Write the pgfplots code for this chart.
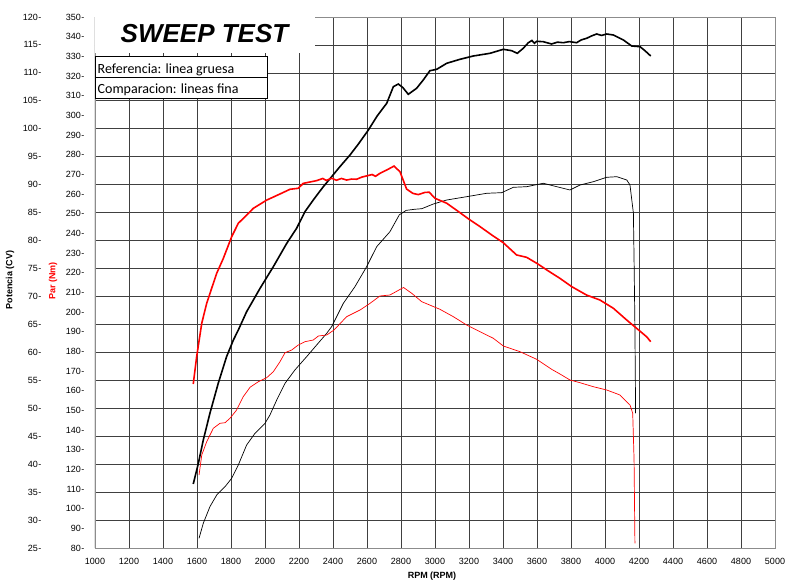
\documentclass[border=0pt]{standalone}
\usepackage{pgfplots}
\pgfplotsset{compat=1.18}
\usepackage{fontspec}
\setmainfont{Liberation Sans}
\newfontfamily\calib{Carlito}

\begin{document}
\begin{tikzpicture}
\useasboundingbox (0pt,0pt) rectangle (785pt,583pt);
\begin{axis}[
  at={(95pt,35pt)}, anchor=south west, scale only axis,
  width=680pt, height=531pt,
  xmin=1000, xmax=5000, ymin=25, ymax=120,
  xtick={1000,1200,...,5000}, ytick={25,30,...,120},
  grid=major, major grid style={black!75, line width=0.7pt},
  major tick length=0pt,
  axis line style={black!45, line width=0.8pt},
  /pgf/number format/assume math mode=true,
  /pgf/number format/1000 sep={},
  tick label style={font=\fontsize{9}{10}\selectfont},
  yticklabel={\pgfmathprintnumber{\tick}\kern0.6pt-},
  yticklabel style={anchor=east, xshift=-50pt},
  xticklabel style={anchor=north, yshift=-7pt},
]
% Reference power (thick black)
\addplot[black, line width=1.6pt] coordinates {
(1578,36.45) (1608,40.15) (1637,44.32) (1676,49.1) (1725,54.47) (1774,59.23)
(1814,62.21) (1843,64.0) (1892,67.28) (1971,71.46) (2049,75.33) (2128,79.51) (2186,82.2)
(2235,85.17) (2284,87.26) (2343,89.64) (2392,91.43) (2440,93.2) (2500,95.31)
(2550,97.3) (2608,99.78) (2660,102.3) (2716,104.56) (2755,107.53) (2784,108.01) (2810,107.4) (2843,106.17)
(2892,107.25) (2931,108.73) (2970,110.39) (3010,110.64) (3069,111.72) (3147,112.43)
(3225,113.02) (3323,113.5) (3402,114.22) (3451,113.97) (3484,113.5) (3519,114.4)
(3549,115.4) (3570,115.8) (3585,115.3) (3598,115.65) (3637,115.58) (3686,115.17)
(3720,115.5) (3755,115.4) (3790,115.6) (3833,115.4) (3860,115.9) (3892,116.19)
(3920,116.6) (3951,116.96) (3980,116.7) (4010,116.96) (4049,116.78) (4108,115.89)
(4157,114.81) (4206,114.69) (4235,113.97) (4269,113.02)
};
% Comparison power (thin black)
\addplot[black, line width=0.7pt] coordinates {
(1612,26.74) (1637,29.42) (1676,32.39) (1716,34.48) (1765,35.97) (1804,37.47)
(1843,39.85) (1892,43.43) (1941,45.52) (2000,47.31) (2029,48.79) (2069,51.48)
(2118,54.47) (2176,56.85) (2245,59.23) (2304,61.32) (2363,63.41)
(2392,64.59) (2461,68.78) (2529,71.75) (2598,75.33)
(2657,78.91) (2735,81.59) (2790,84.6) (2830,85.4) (2880,85.6) (2922,85.7) (2990,86.54)
(3069,87.26) (3186,87.85) (3304,88.46) (3392,88.57) (3461,89.53) (3539,89.64)
(3637,90.25) (3716,89.64) (3794,89.05) (3853,89.94) (3931,90.53) (4010,91.32)
(4069,91.43) (4128,90.84) (4147,89.94) (4160,86.67) (4167,84.93) (4171,76.53)
(4176,64.59) (4180,49.1)
};
\fill[white] (rel axis cs:0,1) rectangle (rel axis cs:0.3235,0.9322);
\node[font=\fontsize{26}{30}\selectfont\bfseries\itshape] at (rel axis cs:0.161,0.968) {SWEEP TEST};
\draw[black, line width=0.8pt, fill=white] (rel axis cs:0,0.9252) rectangle (rel axis cs:0.2529,0.8475);
\draw[black, line width=0.8pt] (rel axis cs:0,0.8857) -- (rel axis cs:0.2529,0.8857);
\node[anchor=base west, inner sep=0pt, font=\calib\fontsize{14}{16}\selectfont] at (rel axis cs:0.0037,0.894) {Referencia: linea gruesa};
\node[anchor=base west, inner sep=0pt, font=\calib\fontsize{14}{16}\selectfont] at (rel axis cs:0.0037,0.8563) {Comparacion: lineas fina};
\draw[black, line width=1pt] (rel axis cs:0,0) -- (rel axis cs:0,1);
\end{axis}
\begin{axis}[
  at={(95pt,35pt)}, anchor=south west, scale only axis,
  width=680pt, height=531pt,
  xmin=1000, xmax=5000, ymin=80, ymax=350,
  hide x axis, axis line style={draw=none},
  ytick={80,90,...,350}, major tick length=0pt,
  yticklabel pos=left,
  /pgf/number format/assume math mode=true,
  /pgf/number format/1000 sep={},
  tick label style={font=\fontsize{9}{10}\selectfont},
  yticklabel={\pgfmathprintnumber{\tick}\kern0.6pt-},
  yticklabel style={anchor=east, xshift=-7pt},
]
% Reference torque (thick red)
\addplot[red, line width=1.6pt] coordinates {
(1578,163.4) (1598,177.3) (1628,194.3) (1657,204.4) (1686,212.0) (1716,219.7)
(1755,227.3) (1804,238.3) (1843,245.1) (1892,249.3) (1931,252.7) (2010,256.9)
(2088,260.0) (2147,262.4) (2196,262.9) (2225,265.4) (2304,266.8) (2340,267.9)
(2360,266.9) (2392,268.0) (2420,267.0) (2450,267.9) (2480,267.1) (2510,267.6)
(2539,267.5) (2570,268.6) (2598,269.2) (2630,269.9) (2650,269.0) (2676,270.5)
(2716,272.2) (2759,274.2) (2794,271.3) (2833,262.5) (2870,260.3) (2902,259.7)
(2940,260.8) (2966,260.9) (3000,257.8) (3069,255.3) (3147,250.5) (3196,247.4)
(3265,243.4) (3343,238.6) (3402,235.2) (3480,229.0) (3539,227.8) (3598,224.8)
(3657,221.4) (3735,217.1) (3804,212.9) (3892,208.6) (3970,206.1) (4049,201.9)
(4128,195.9) (4186,191.7) (4245,187.4) (4269,184.9)
};
% Comparison torque (thin red)
\addplot[red, line width=0.7pt] coordinates {
(1612,117.1) (1628,127.3) (1657,134.05) (1696,140.86) (1735,143.4) (1765,143.71)
(1794,145.95) (1833,150.17) (1872,156.93) (1912,161.71) (1961,164.56) (2010,166.59)
(2049,169.64) (2088,174.73) (2118,179.3) (2157,180.68) (2196,183.22) (2235,184.9)
(2284,185.76) (2314,187.8) (2363,188.3) (2406,190.85) (2480,197.61)
(2559,201.02) (2618,204.42) (2676,208.13) (2735,208.64) (2815,212.46) (2863,209.51)
(2922,205.24) (3029,201.37) (3108,197.61) (3186,193.39) (3265,189.98) (3343,186.63)
(3402,182.71) (3500,179.81) (3598,175.95) (3686,170.86) (3735,168.47) (3794,165.42)
(3853,164.05) (3931,162.02) (4010,160.34) (4088,157.8) (4147,152.71) (4163,148.49)
(4171,124.75) (4176,82.39)
};
\end{axis}
\node[rotate=90, font=\fontsize{9}{10}\selectfont\bfseries] at (10pt,303pt) {Potencia (CV)};
\node[rotate=90, font=\fontsize{9}{10}\selectfont\bfseries, text=red] at (53pt,302pt) {Par (Nm)};
\node[anchor=base, font=\fontsize{9}{10}\selectfont\bfseries] at (432pt,4pt) {RPM (RPM)};
\end{tikzpicture}
\end{document}
